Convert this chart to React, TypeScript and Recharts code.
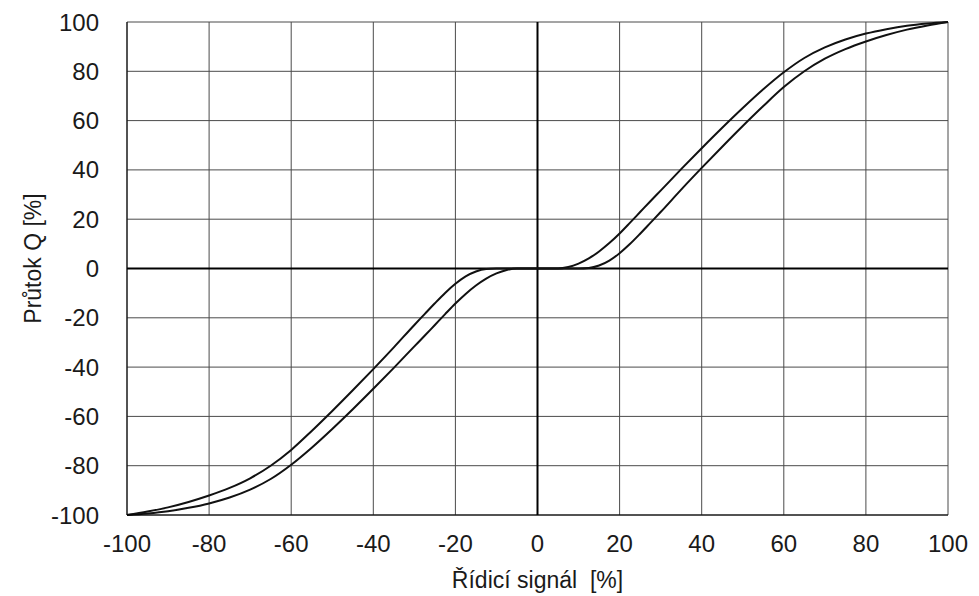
import { LineChart, Line, XAxis, YAxis, CartesianGrid, ReferenceLine } from 'recharts'

// control signal [%]
const signal = [
  -100, -95, -90, -85, -80, -75, -70, -65, -60, -55, -50, -45, -40, -35, -30,
  -27.5, -25, -22.5, -20, -17.5, -15, -12.5, -10, -7.5, -5, -2.5, 0,
  2.5, 5, 7.5, 10, 12.5, 15, 17.5, 20, 22.5, 25, 27.5, 30,
  35, 40, 45, 50, 55, 60, 65, 70, 75, 80, 85, 90, 95, 100,
]

// flow for the left (leading) branch of the hysteresis loop
const flowLeft = [
  -100, -98.6, -96.9, -94.7, -92.1, -89, -85.1, -80, -73.6, -65.9, -57.8, -49.4, -40.8, -32, -22.9,
  -18.5, -14.1, -9.9, -6.2, -3.2, -1.2, -0.2, 0, 0, 0, 0, 0,
  0, 0, 0.6, 2, 4.1, 6.9, 10.3, 14.2, 18.5, 22.9, 27.3, 31.6,
  40.3, 48.8, 57.1, 65.1, 72.7, 79.6, 85.4, 89.7, 92.9, 95.3, 97.1, 98.5, 99.4, 100,
]

// flow for the right (lagging) branch
const flowRight = [
  -100, -99.4, -98.5, -97.1, -95.3, -92.9, -89.7, -85.4, -79.6, -72.7, -65.1, -57.1, -48.8, -40.3, -31.6,
  -27.3, -22.9, -18.5, -14.2, -10.3, -6.9, -4.1, -2, -0.6, 0, 0, 0,
  0, 0, 0, 0, 0.2, 1.2, 3.2, 6.2, 9.9, 14.1, 18.5, 22.9,
  32, 40.8, 49.4, 57.8, 65.9, 73.6, 80, 85.1, 89, 92.1, 94.7, 96.9, 98.6, 100,
]

const ticks = [-100, -80, -60, -40, -20, 0, 20, 40, 60, 80, 100]

const data = signal.map((s, i) => ({ s, left: flowLeft[i], right: flowRight[i] }))

const font = '"Liberation Sans", Arial, sans-serif'
const tickStyle = { fill: '#1a1a1a', fontSize: 24, fontFamily: font }

const YTitle = ({ viewBox }: any) => {
  const cx = viewBox.x + 25
  const cy = viewBox.y + viewBox.height / 2 - 10
  return (
    <text
      x={cx}
      y={cy}
      transform={`rotate(-90 ${cx} ${cy})`}
      textAnchor="middle"
      dominantBaseline="central"
      fill="#1a1a1a"
      fontSize={23}
      fontFamily={font}
    >
      Průtok Q [%]
    </text>
  )
}

export default function App() {
  return (
    <LineChart
      width={965}
      height={588}
      data={data}
      margin={{ top: 14, right: 25, bottom: 6, left: 0 }}
    >
      <CartesianGrid stroke="#4a4a4a" strokeWidth={1} />
      <XAxis
        type="number"
        dataKey="s"
        domain={[-100, 100]}
        ticks={ticks}
        interval={0}
        height={75}
        tickSize={0}
        tickMargin={20}
        axisLine={{ stroke: '#000' }}
        tick={tickStyle}
        label={{
          value: 'Řídicí signál\u00a0 [%]',
          position: 'insideBottom',
          offset: 2,
          style: { fill: '#1a1a1a', fontSize: 23, fontFamily: font },
        }}
      />
      <YAxis
        type="number"
        domain={[-100, 100]}
        ticks={ticks}
        interval={0}
        width={119}
        tickSize={0}
        tickMargin={28}
        axisLine={{ stroke: '#000' }}
        tick={tickStyle}
        label={{ content: YTitle }}
      />
      <ReferenceLine x={0} stroke="#000" strokeWidth={2} />
      <ReferenceLine y={0} stroke="#000" strokeWidth={2} />
      <Line
        type="monotone"
        dataKey="left"
        stroke="#111"
        strokeWidth={2}
        dot={false}
        activeDot={false}
        isAnimationActive={false}
      />
      <Line
        type="monotone"
        dataKey="right"
        stroke="#111"
        strokeWidth={2}
        dot={false}
        activeDot={false}
        isAnimationActive={false}
      />
    </LineChart>
  )
}
